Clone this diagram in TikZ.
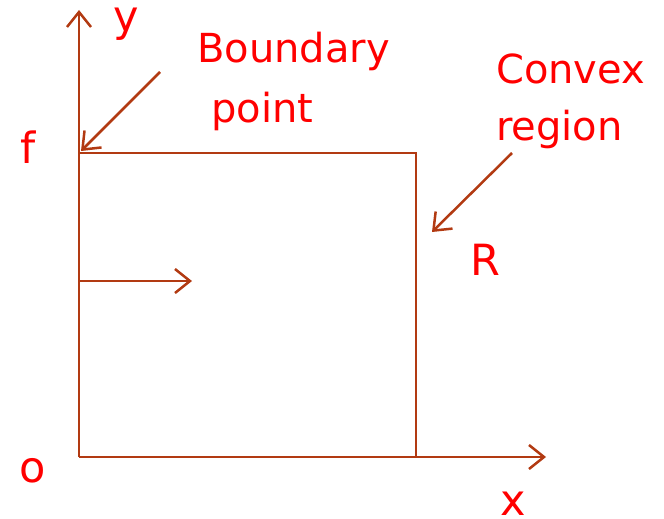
\documentclass[tikz,border=0pt]{standalone}
\usepackage{fontspec}
\setmainfont{DejaVu Sans}
\usetikzlibrary{arrows.meta}
\definecolor{axisbrown}{RGB}{178,58,18}
\definecolor{labelred}{RGB}{255,0,0}

\begin{document}
\begin{tikzpicture}[x=1pt,y=-1pt]
\tikzset{
  axisline/.style={draw=axisbrown,line width=2.5pt},
  pointer/.style={axisline,-{Straight Barb[length=15pt,width=24pt,line width=2.5pt]}},
  lbl/.style={text=labelred,inner sep=0pt,anchor=base,font=\fontsize{43}{50}\selectfont},
  txt/.style={text=labelred,inner sep=0pt,anchor=base west,font=\fontsize{40}{58}\selectfont}
}
\useasboundingbox (0,0) rectangle (664,519);
% axes and region
\coordinate (c_o) at (79,457);
\coordinate (c_ytip) at (79,10);
\coordinate (c_xtip) at (546,457);
\coordinate (c_f) at (79,153);
\coordinate (c_tr) at (416,153);
\coordinate (c_br) at (416,457);
\coordinate (c_mid) at (79,281);
\coordinate (c_midtip) at (192,281);
\coordinate (c_btail) at (160,72);
\coordinate (c_bhead) at (81,151);
\coordinate (c_ctail) at (512,153);
\coordinate (c_chead) at (432,232);
\draw[pointer] (c_o) -- (c_ytip);
\draw[pointer] (c_o) -- (c_xtip);
\draw[axisline] (c_f) -- (c_tr) -- (c_br);
\draw[pointer] (c_mid) -- (c_midtip);
\draw[pointer] (c_btail) -- (c_bhead);
\draw[pointer] (c_ctail) -- (c_chead);
% labels
\node[lbl] (l_y) at (126,32) {y};
\node[lbl] (l_f) at (28,163) {f};
\node[lbl] (l_r) at (485,275) {R};
\node[lbl] (l_o) at (33,482) {o};
\node[lbl] (l_x) at (513,515) {x};
\node[txt] (l_bnd) at (197,63) {Boundary};
\node[txt] (l_pt) at (211,122) {point};
\node[txt] (l_cvx) at (496,83) {Convex};
\node[txt] (l_reg) at (496,140) {region};
\end{tikzpicture}
\end{document}
